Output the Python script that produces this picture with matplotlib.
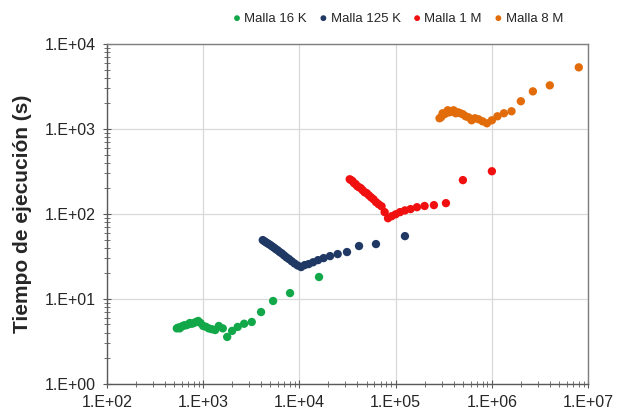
import numpy as np
import matplotlib
matplotlib.use("Agg")
import matplotlib.pyplot as plt
from matplotlib.ticker import LogLocator, FuncFormatter, NullFormatter

plt.rcParams['font.family'] = ['Liberation Sans', 'DejaVu Sans']

# Elements per process (x) and execution time in seconds (y) for each mesh
x_16k = [16000, 8000, 5333, 4000, 3200, 2667, 2286, 2000, 1778, 1600,
         1455, 1333, 1231, 1143, 1067, 1000, 941, 889, 842, 800,
         762, 727, 696, 667, 640, 615, 593, 571, 552, 533]
y_16k = [18.1, 11.7, 9.45, 7.0, 5.35, 5.1, 4.68, 4.2, 3.57, 4.5,
         4.8, 4.3, 4.4, 4.5, 4.7, 4.8, 5.2, 5.5, 5.35, 5.2,
         5.1, 5.2, 5.0, 4.9, 4.9, 4.8, 4.7, 4.5, 4.6, 4.5]

x_125k = [125000, 62500, 41667, 31250, 25000, 20833, 17857, 15625, 13889, 12500,
          11364, 10417, 9615, 8929, 8333, 7813, 7353, 6944, 6579, 6250,
          5952, 5682, 5435, 5208, 5000, 4808, 4630, 4464, 4310, 4167]
y_125k = [54.8, 44.2, 41.9, 35.6, 33.7, 31.9, 30.2, 28.6, 27.0, 25.7,
          25.0, 23.7, 24.7, 26.1, 27.7, 29.4, 30.8, 32.5, 34.3, 35.6,
          37.3, 38.6, 40.2, 41.5, 43.0, 44.2, 45.4, 46.6, 47.9, 49.2]

x_1m = [1000000, 500000, 333333, 250000, 200000, 166667, 142857, 125000, 111111, 100000,
        90909, 83333, 76923, 71429, 66667, 62500, 58824, 55556, 52632, 50000,
        47619, 45455, 43478, 41667, 40000, 38462, 37037, 35714, 34483, 33333]
y_1m = [318, 250, 134, 127, 124, 120, 114, 110, 105, 99,
        94, 89, 105, 123, 130, 138, 149, 157, 166, 176,
        180, 190, 201, 206, 212, 224, 230, 243, 250, 256]

x_8m = [8000000, 4000000, 2666667, 2000000, 1600000, 1333333, 1142857, 1000000, 888889, 800000,
        727273, 666667, 615385, 571429, 533333, 500000, 470588, 444444, 421053, 400000,
        380952, 363636, 347826, 333333, 320000, 307692, 296296, 285714]
y_8m = [5310, 3260, 2770, 2120, 1615, 1530, 1410, 1265, 1166, 1231,
        1300, 1336, 1265, 1372, 1410, 1489, 1530, 1571, 1530, 1660,
        1614, 1571, 1660, 1530, 1489, 1530, 1372, 1336]

series = [
    ("Malla 16 K", x_16k, y_16k, "#12A84A"),
    ("Malla 125 K", x_125k, y_125k, "#1F3864"),
    ("Malla 1 M", x_1m, y_1m, "#F01010"),
    ("Malla 8 M", x_8m, y_8m, "#E36C0A"),
]

fig = plt.figure(figsize=(6.25, 4.15), dpi=100)
ax = fig.add_axes([0.171, 0.075, 0.770, 0.819])

for label, xs, ys, color in series:
    ax.scatter(xs, ys, s=36, color=color, edgecolors='none', label=label, zorder=3)

ax.set_xscale('log')
ax.set_yscale('log')
ax.set_xlim(1e2, 1e7)
ax.set_ylim(1e0, 1e4)

fmt = FuncFormatter(lambda v, pos: "1.E+%02d" % int(round(np.log10(v))))
for axis in (ax.xaxis, ax.yaxis):
    axis.set_major_locator(LogLocator(base=10, numticks=10))
    axis.set_minor_locator(LogLocator(base=10, subs=np.arange(2, 10), numticks=10))
    axis.set_major_formatter(fmt)
    axis.set_minor_formatter(NullFormatter())

ax.grid(True, which='major', color='#D9D9D9', linewidth=0.9, zorder=0)
ax.set_axisbelow(True)

for side in ('left', 'bottom', 'top', 'right'):
    ax.spines[side].set_color('#7F7F7F')
    ax.spines[side].set_linewidth(1.0)
ax.spines['left'].set_color('#595959')
ax.spines['bottom'].set_color('#595959')

ax.tick_params(which='major', direction='inout', length=6, width=0.8, color='#595959',
               labelsize=11.5, labelcolor='#262626', top=False, right=False)
ax.tick_params(which='minor', direction='inout', length=4, width=0.6, color='#595959',
               top=False, right=False)
ax.tick_params(axis='x', pad=5)
ax.tick_params(axis='y', pad=5)

ax.set_ylabel("Tiempo de ejecución (s)", fontsize=15, fontweight='bold', color='#262626',
              labelpad=9)

leg = ax.legend(loc='center', bbox_to_anchor=(0.605, 1.075), ncol=4, frameon=False,
                fontsize=9.5, handlelength=0.6, handletextpad=0.25, columnspacing=0.95,
                markerscale=0.7, borderaxespad=0)
for t in leg.get_texts():
    t.set_color('#262626')

fig.savefig("out.png", dpi=100)
